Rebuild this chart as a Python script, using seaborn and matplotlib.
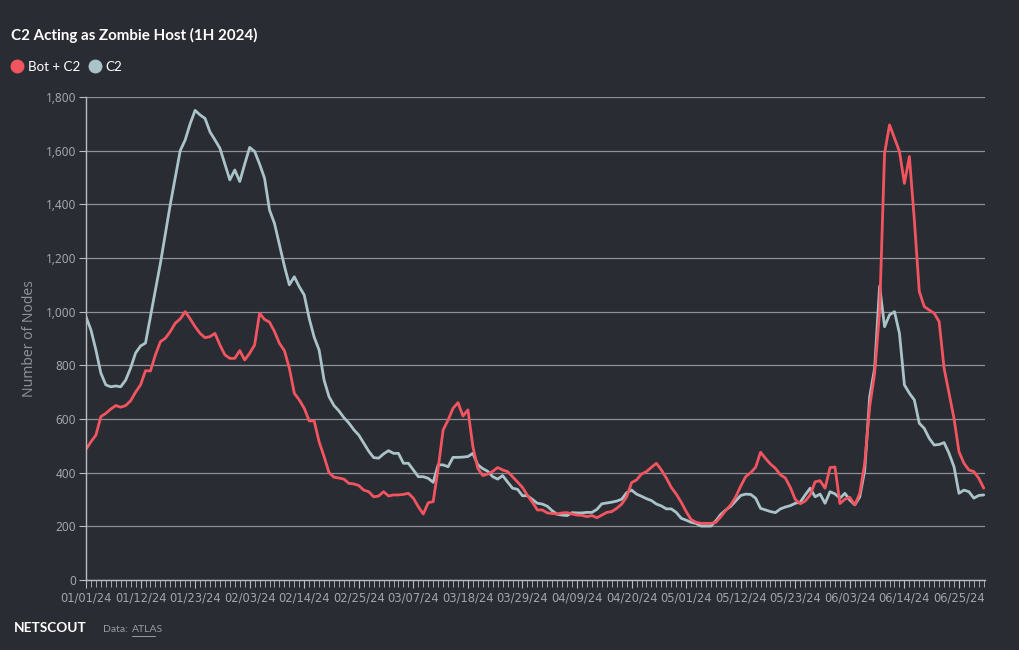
import numpy as np
import pandas as pd
import matplotlib
matplotlib.use("Agg")
import matplotlib.pyplot as plt
import matplotlib.dates as mdates
from matplotlib.lines import Line2D
from matplotlib.ticker import FuncFormatter, MultipleLocator
import seaborn as sns

# daily node counts, 01/01/24 - 06/30/24
dates = pd.date_range("2024-01-01", "2024-06-30", freq="D")

bot_c2 = [
    487, 515, 540, 609, 621, 637, 650, 644, 650, 668,
    700, 727, 780, 779, 839, 888, 901, 926, 957, 973,
    1000, 973, 944, 919, 903, 907, 919, 876, 839, 826,
    826, 855, 820, 845, 876, 994, 971, 961, 926, 882,
    855, 789, 696, 671, 640, 593, 593, 515, 460, 400,
    383, 380, 376, 360, 358, 352, 335, 329, 310, 313,
    329, 313, 317, 317, 319, 323, 305, 273, 246, 288,
    292, 416, 559, 596, 640, 661, 611, 634, 497, 416,
    389, 395, 405, 419, 410, 404, 385, 365, 345, 315,
    290, 261, 261, 250, 248, 246, 250, 251, 246, 242,
    241, 236, 240, 232, 242, 252, 255, 267, 283, 310,
    363, 373, 395, 404, 420, 435, 410, 380, 345, 320,
    290, 255, 225, 215, 211, 211, 211, 215, 236, 260,
    280, 310, 350, 385, 400, 420, 476, 453, 432, 416,
    392, 380, 345, 300, 284, 294, 317, 366, 370, 342,
    419, 421, 285, 301, 308, 280, 323, 435, 646, 770,
    1000, 1590, 1696, 1646, 1597, 1478, 1578, 1342, 1075, 1019,
    1006, 994, 963, 789, 696, 602, 478, 435, 410, 404,
    379, 342,
]

c2 = [
    981, 932, 857, 771, 727, 720, 723, 720, 745, 790,
    846, 872, 883, 981, 1081, 1180, 1290, 1400, 1500, 1600,
    1640, 1700, 1750, 1733, 1720, 1670, 1640, 1609, 1550, 1491,
    1528, 1485, 1550, 1612, 1597, 1550, 1497, 1379, 1329, 1250,
    1170, 1100, 1130, 1093, 1062, 975, 905, 857, 745, 683,
    650, 630, 605, 585, 560, 540, 510, 480, 456, 454,
    470, 482, 472, 472, 435, 435, 410, 385, 385, 379,
    364, 429, 429, 422, 457, 457, 458, 460, 472, 429,
    415, 405, 385, 376, 389, 365, 342, 338, 314, 314,
    300, 286, 283, 275, 258, 245, 242, 240, 251, 250,
    250, 252, 252, 263, 284, 287, 290, 294, 301, 325,
    335, 320, 312, 303, 296, 283, 276, 265, 265, 252,
    230, 223, 215, 211, 201, 201, 201, 221, 245, 261,
    275, 295, 315, 320, 319, 305, 267, 261, 255, 251,
    265, 272, 277, 286, 290, 317, 342, 310, 320, 286,
    329, 321, 305, 323, 298, 280, 310, 410, 683, 789,
    1095, 944, 988, 1000, 919, 727, 696, 671, 584, 565,
    528, 503, 505, 512, 472, 422, 323, 335, 329, 305,
    315, 317,
]

series_names = ["Bot + C2", "C2"]
colors = {"Bot + C2": "#f25560", "C2": "#a9c3c8"}

df = pd.DataFrame({
    "date": np.concatenate([dates, dates]),
    "nodes": bot_c2 + c2,
    "series": [series_names[0]] * len(dates) + [series_names[1]] * len(dates),
})

bg = "#2a2c33"
sns.set_theme(style="dark", rc={
    "figure.facecolor": bg,
    "axes.facecolor": bg,
})
plt.rcParams["font.family"] = ["Lato", "DejaVu Sans"]

fig = plt.figure(figsize=(10.2, 6.5), dpi=100)
ax = fig.add_axes([0.0843, 0.1077, 0.8814, 0.7431])

# C2 drawn first so red sits on top
sns.lineplot(data=df, x="date", y="nodes", hue="series",
             hue_order=["C2", "Bot + C2"], palette=colors,
             linewidth=2, legend=False, ax=ax)

ax.set_ylim(0, 1800)
ax.set_xlim(dates[0], dates[-1] + pd.Timedelta(hours=6))
ax.yaxis.set_major_locator(MultipleLocator(200))
ax.yaxis.set_major_formatter(FuncFormatter(lambda v, p: f"{int(v):,}"))
ax.grid(axis="y", color="#8e9096", linewidth=0.9)
ax.grid(axis="x", visible=False)

ax.set_xticks(pd.date_range(dates[0], dates[-1], freq="11D"))
ax.xaxis.set_major_formatter(mdates.DateFormatter("%m/%d/%y"))
ax.xaxis.set_minor_locator(mdates.DayLocator())

for s in ["top", "right"]:
    ax.spines[s].set_visible(False)
for s in ["left", "bottom"]:
    ax.spines[s].set_visible(True)
    ax.spines[s].set_color("#b9bbc0")
    ax.spines[s].set_linewidth(1)

ax.tick_params(axis="x", which="major", length=6, width=0.8, color="#b9bbc0",
               labelsize=9, labelcolor="#a3a5aa", pad=2, bottom=True)
ax.tick_params(axis="x", which="minor", length=5, width=0.6, color="#b9bbc0", bottom=True)
ax.tick_params(axis="y", length=5, width=0.8, color="#b9bbc0",
               labelsize=8.5, labelcolor="#a3a5aa", pad=2, left=True)
for lab in ax.get_xticklabels():
    lab.set_family("DejaVu Sans")
    lab.set_fontsize(8.3)
for lab in ax.get_yticklabels():
    lab.set_family("Noto Sans")

ax.set_xlabel("")
ax.set_ylabel("Number of Nodes", color="#8e9096", fontsize=10, labelpad=6,
              family="Noto Sans")

fig.text(0.011, 0.946, "C2 Acting as Zombie Host (1H 2024)", color="white",
         fontsize=10.9, fontweight="bold", va="center")

handles = [Line2D([], [], marker="o", linestyle="none", markersize=9,
                  markerfacecolor=colors[n], markeredgecolor=colors[n])
           for n in series_names]
fig.legend(handles, series_names, loc="center left", bbox_to_anchor=(-0.003, 0.897),
           frameon=False, ncol=2, fontsize=9.6, labelcolor="white",
           handletextpad=0.25, columnspacing=0.45, handlelength=1.2)

fig.text(0.014, 0.034, "NETSCOUT", color="white", fontsize=9.8,
         fontweight="bold", va="center")
fig.text(0.101, 0.031, "Data: ", color="#9a9ca1", fontsize=7.5, va="center")
fig.text(0.129, 0.031, "ATLAS", color="#9a9ca1", fontsize=7.5, va="center")
fig.add_artist(Line2D([0.129, 0.152], [0.022, 0.022], color="#9a9ca1", linewidth=0.7))

fig.savefig("out.png", dpi=100, facecolor=bg)
